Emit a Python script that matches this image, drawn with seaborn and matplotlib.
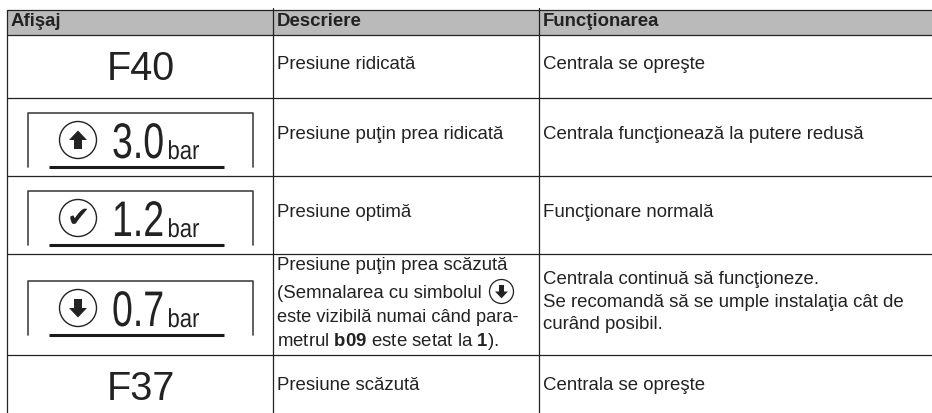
import numpy as np
import matplotlib
matplotlib.use('Agg')
import matplotlib.pyplot as plt
import seaborn as sns
from matplotlib.patches import Circle
from matplotlib.patheffects import AbstractPathEffect
from matplotlib.transforms import Affine2D

# table content
headers = ['Afişaj', 'Descriere', 'Funcţionarea']
coduri = ['F40', 'F37']
presiuni = ['3.0', '1.2', '0.7']
unitate = 'bar'
descriere = [
    ['Presiune ridicată'],
    ['Presiune puţin prea ridicată'],
    ['Presiune optimă'],
    ['Presiune puţin prea scăzută', '(Semnalarea cu simbolul', 'este vizibilă numai când para-',
     r'metrul $\mathbf{b09}$ este setat la $\mathbf{1}$).'],
    ['Presiune scăzută'],
]
functionare = [
    ['Centrala se opreşte'],
    ['Centrala funcţionează la putere redusă'],
    ['Funcţionare normală'],
    ['Centrala continuă să funcţioneze.', 'Se recomandă să se umple instalaţia cât de', 'curând posibil.'],
    ['Centrala se opreşte'],
]

sns.set_theme(style='white', rc={
    'mathtext.fontset': 'custom',
    'mathtext.bf': 'Liberation Sans:bold',
    'mathtext.rm': 'Liberation Sans',
})
plt.rcParams['font.family'] = ['Liberation Sans', 'DejaVu Sans']

W, H = 932, 413
ink = '#222222'
fig = plt.figure(figsize=(W / 100, H / 100), dpi=100)
ax = fig.add_axes([0, 0, 1, 1])
ax.set_xlim(0, W)
ax.set_ylim(H, 0)
ax.axis('off')


class Tall(AbstractPathEffect):
    # stretches the glyphs upward from the baseline, no condensed font is installed
    def __init__(self, y0, k):
        super().__init__()
        self.y0, self.k = y0, k

    def draw_path(self, renderer, gc, tpath, affine, rgbFace=None):
        stretch = Affine2D().translate(0, -self.y0).scale(1, self.k).translate(0, self.y0)
        renderer.draw_path(gc, tpath, affine + stretch, rgbFace)


def condensed_text(x, y, t, size, k):
    txt = ax.text(x, y, t, fontsize=size, color=ink, va='baseline')
    txt.set_path_effects([Tall(ax.transData.transform((x, y))[1], k)])
    return txt


# grey header band
hdr = fig.add_axes([6.5 / W, 1 - 35 / H, (W - 6.5) / W, 25.5 / H])
sns.heatmap(np.array([[0.73]]), ax=hdr, cmap='gray', vmin=0, vmax=1, cbar=False,
            xticklabels=False, yticklabels=False)
hdr.set_zorder(0)
ax.set_zorder(1)
ax.patch.set_alpha(0)

# grid
rules = [9.5, 35, 97.5, 175.5, 253.5, 355]
for y in rules:
    ax.plot([6.5, W], [y, y], color=ink, lw=0.9)
ax.plot([6.5, 6.5], [9.5, H], color=ink, lw=0.9)
for x in (272.5, 538.5):
    ax.plot([x, x], [8, H], color=ink, lw=0.9)

body = 13.4
for x, h in zip((10.5, 277, 543), headers):
    ax.text(x, 26, h, fontsize=body, fontweight='bold', color=ink, va='baseline')

desc_base = [[69], [139], [217], [270, 298, 322, 346], [390]]
desc_size = [[body], [body], [body], [body, body, 13.15, body], [body]]
func_base = [[69], [139], [217], [284, 307, 329], [390]]
for lines, bases, sizes in zip(descriere, desc_base, desc_size):
    for t, y, s in zip(lines, bases, sizes):
        ax.text(277, y, t, fontsize=s, color=ink, va='baseline')
for lines, bases in zip(functionare, func_base):
    for t, y in zip(lines, bases):
        ax.text(543, y, t, fontsize=body, color=ink, va='baseline')


def arrow(cx, cy, s, up):
    d = -1 if up else 1
    ax.fill([cx - 9 * s, cx + 9 * s, cx], [cy, cy, cy + d * 9.5 * s], color=ink, lw=0)
    ax.fill([cx - 4 * s, cx + 4 * s, cx + 4 * s, cx - 4 * s],
            [cy - d * 9 * s, cy - d * 9 * s, cy + d * s, cy + d * s], color=ink, lw=0)


# codes
for t, y in zip(coduri, (80, 400)):
    ax.text(140.5, y, t, fontsize=28.5, color=ink, ha='center', va='baseline')

# pressure displays
tops = [113, 191, 281]
icons = ['up', 'ok', 'down']
for val, top, icon in zip(presiuni, tops, icons):
    bot = top + 54
    ax.plot([28, 28, 253, 253], [bot, top, top, bot], color='#444444', lw=1.2)
    ax.plot([48.5, 224], [bot, bot], color='#1a1a1a', lw=2.2, solid_capstyle='butt')
    cy = top + 27
    ax.add_patch(Circle((78, cy), 18.5, fill=False, ec=ink, lw=1.0))
    if icon == 'up':
        arrow(78, cy, 1, True)
    elif icon == 'down':
        arrow(78, cy, 1, False)
    else:
        ax.text(78, cy, '✔', fontsize=20, family='DejaVu Sans', color=ink, ha='center', va='center')
    condensed_text(112, bot - 9, val, 27, 1 / 0.75)
    condensed_text(167.5, bot - 8, unitate, 15.9, 1 / 0.85)

# small inline symbol
ax.add_patch(Circle((501.5, 291.5), 12, fill=False, ec=ink, lw=0.9))
arrow(501.5, 291.5, 0.72, False)

fig.savefig('out.png', dpi=100)
